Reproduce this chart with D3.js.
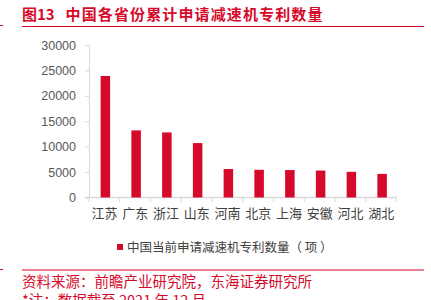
<!DOCTYPE html>
<html>
<head>
<meta charset="utf-8">
<script src="https://cdn.jsdelivr.net/npm/d3@7"></script>
<style>
    body { margin: 0; background: #fff; }
    text { font-family: "Liberation Sans", "Noto Sans CJK SC", sans-serif; }
</style>
</head>
<body>
<script>
// 省份
const provinces = ['江苏', '广东', '浙江', '山东', '河南', '北京', '上海', '安徽', '河北', '湖北'];
// 专利数量（项）
const patents = [23900, 13200, 12800, 10700, 5600, 5450, 5400, 5300, 5050, 4650];
// y轴刻度
const yTicks = [0, 5000, 10000, 15000, 20000, 25000, 30000];

const width = 431;
const height = 300;
const red = '#d7092a';
const cjk = '"Noto Sans CJK SC", sans-serif';

const svg = d3.select('body')
    .append('svg')
    .attr('width', width)
    .attr('height', height);

// 标题
svg.append('text')
    .attr('x', 22)
    .attr('y', 20)
    .attr('fill', red)
    .attr('font-size', '15px')
    .attr('font-weight', 'bold')
    .style('font-family', cjk)
    .text('图13');

svg.append('text')
    .attr('x', 65.5)
    .attr('y', 20)
    .attr('fill', red)
    .attr('font-size', '15px')
    .attr('font-weight', 'bold')
    .attr('textLength', 257)
    .style('font-family', cjk)
    .text('中国各省份累计申请减速机专利数量');

svg.append('line')
    .attr('x1', 22).attr('x2', 424)
    .attr('y1', 26.5).attr('y2', 26.5)
    .attr('stroke', red)
    .attr('stroke-width', 1.2);

svg.append('line')
    .attr('x1', 0).attr('x2', 3)
    .attr('y1', 25.5).attr('y2', 25.5)
    .attr('stroke', red);

// 比例尺
const x = d3.scaleBand()
    .domain(provinces)
    .range([89, 396.5]);

const y = d3.scaleLinear()
    .domain([0, 30000])
    .range([197.5, 45]);

// 坐标轴
const yAxis = svg.append('g')
    .attr('transform', 'translate(89,0)')
    .call(d3.axisLeft(y).tickValues(yTicks).tickSize(4).tickPadding(9).tickFormat(d => d));
yAxis.select('.domain').attr('stroke', '#d9d9d9');
yAxis.selectAll('.tick line').attr('stroke', '#d9d9d9');
yAxis.selectAll('text')
    .attr('fill', '#595959')
    .attr('font-size', '12.5px');

const xAxis = svg.append('g')
    .attr('transform', 'translate(0,197.5)')
    .call(d3.axisBottom(x).tickSize(0).tickPadding(11));
xAxis.select('.domain').remove();
xAxis.selectAll('text')
    .attr('fill', '#404040')
    .attr('font-size', '13px')
    .style('font-family', cjk);

svg.append('line')
    .attr('x1', 85).attr('x2', 396.5)
    .attr('y1', 197.5).attr('y2', 197.5)
    .attr('stroke', '#d9d9d9')
    .attr('stroke-width', 1.5);

svg.append('g')
    .selectAll('line')
    .data(provinces.map(p => x(p)).concat([x.range()[1]]))
    .enter()
    .append('line')
    .attr('x1', d => d).attr('x2', d => d)
    .attr('y1', 197.5).attr('y2', 202)
    .attr('stroke', '#d9d9d9');

// 柱形
const barWidth = 9.5;
svg.append('g')
    .selectAll('rect')
    .data(patents)
    .enter()
    .append('rect')
    .attr('x', (d, i) => x(provinces[i]) + x.bandwidth() / 2 - barWidth / 2 + 1)
    .attr('y', d => y(d))
    .attr('width', barWidth)
    .attr('height', d => y(0) - y(d))
    .attr('fill', red);

// 图例
svg.append('rect')
    .attr('x', 117)
    .attr('y', 244)
    .attr('width', 6)
    .attr('height', 6)
    .attr('fill', red);

svg.append('text')
    .attr('x', 127)
    .attr('y', 252)
    .attr('fill', '#404040')
    .attr('font-size', '12.5px')
    .style('font-family', cjk)
    .text('中国当前申请减速机专利数量（ 项 ）');

// 来源
svg.append('line')
    .attr('x1', 22).attr('x2', 424)
    .attr('y1', 270).attr('y2', 270)
    .attr('stroke', red)
    .attr('stroke-width', 1);

svg.append('line')
    .attr('x1', 0).attr('x2', 3)
    .attr('y1', 269.5).attr('y2', 269.5)
    .attr('stroke', red);

svg.append('text')
    .attr('x', 22)
    .attr('y', 287)
    .attr('fill', red)
    .attr('font-size', '14.5px')
    .style('font-family', cjk)
    .text('资料来源：前瞻产业研究院，东海证券研究所');

svg.append('text')
    .attr('x', 22)
    .attr('y', 306)
    .attr('fill', red)
    .attr('font-size', '14.5px')
    .style('font-family', cjk)
    .text('*注：数据截至 2021 年 12 月');
</script>
</body>
</html>
